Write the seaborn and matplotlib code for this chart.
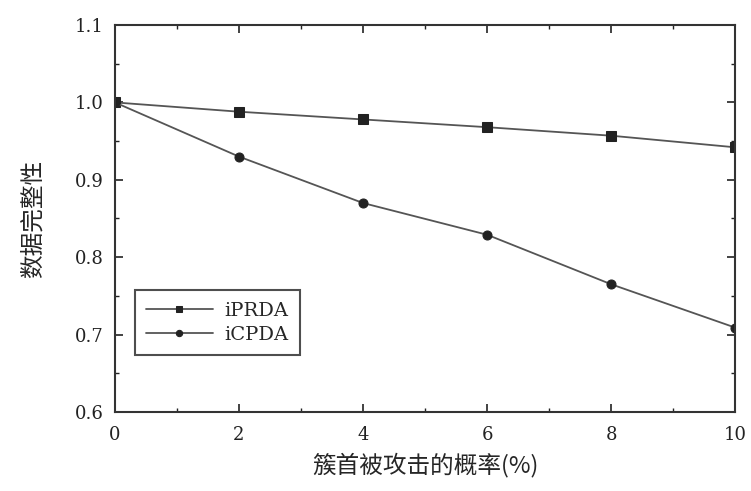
import matplotlib
matplotlib.use("Agg")
import matplotlib.pyplot as plt
import seaborn as sns
import pandas as pd
from matplotlib.ticker import MultipleLocator

x_vals = [0, 2, 4, 6, 8, 10]
iprda = [1.000, 0.988, 0.978, 0.968, 0.957, 0.942]
icpda = [1.000, 0.930, 0.870, 0.829, 0.765, 0.709]
series_names = ["iPRDA", "iCPDA"]

df = pd.DataFrame({
    "x": x_vals * 2,
    "y": iprda + icpda,
    "series": [series_names[0]] * len(x_vals) + [series_names[1]] * len(x_vals),
})

sns.set_style("ticks")
plt.rcParams['font.family'] = ['DejaVu Serif', 'Noto Sans CJK SC']
plt.rcParams['mathtext.fontset'] = 'dejavuserif'

fig = plt.figure(figsize=(7.51, 4.91), dpi=100)
ax = fig.add_axes([0.153, 0.161, 0.826, 0.788])

sns.lineplot(data=df, x="x", y="y", hue="series", style="series",
             palette={"iPRDA": "#555555", "iCPDA": "#555555"},
             markers={"iPRDA": "s", "iCPDA": "o"}, dashes=False,
             markersize=6.5, linewidth=1.3, markeredgecolor="#222222",
             ax=ax)
for ln in ax.lines:
    ln.set_markerfacecolor("#222222")

ax.set_xlim(0, 10)
ax.set_ylim(0.6, 1.1)
ax.xaxis.set_major_locator(MultipleLocator(2))
ax.xaxis.set_minor_locator(MultipleLocator(1))
ax.yaxis.set_major_locator(MultipleLocator(0.1))
ax.yaxis.set_minor_locator(MultipleLocator(0.05))
ax.set_yticklabels([f"{v:.1f}" for v in ax.get_yticks()])
ax.tick_params(which="both", direction="in", top=True, right=True, labelsize=13, colors="#222222")
ax.tick_params(axis="x", which="major", pad=10)
ax.tick_params(axis="y", which="major", pad=8)
ax.tick_params(which="major", length=6, width=1.2)
ax.tick_params(which="minor", length=3, width=1)
for sp in ax.spines.values():
    sp.set_linewidth(1.5)
    sp.set_color("#333333")

ax.set_xlabel("簇首被攻击的概率(%)", fontsize=17, family=['Noto Sans CJK SC', 'DejaVu Serif'], labelpad=6)
ax.set_ylabel("数据完整性", fontsize=17, family=['Noto Sans CJK SC', 'DejaVu Serif'], labelpad=22)

leg = ax.legend(loc="upper left", bbox_to_anchor=(0.032, 0.315), borderaxespad=0,
                frameon=True, fancybox=False,
                edgecolor="#222222", fontsize=14, handlelength=3.4, markerscale=0.7,
                borderpad=0.6, labelspacing=0.3, handletextpad=0.6)
leg.get_frame().set_linewidth(1.5)
leg.set_title(None)

fig.savefig("out.png", dpi=100)
